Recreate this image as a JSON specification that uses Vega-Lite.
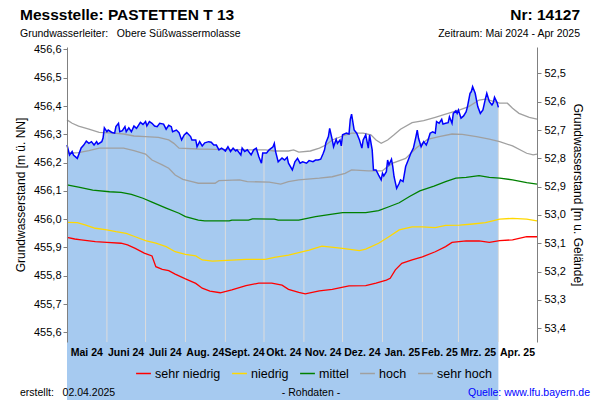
{
  "$schema": "https://vega.github.io/schema/vega-lite/v6.json",
  "width": 470,
  "height": 295,
  "autosize": {"type": "none"},
  "padding": {"left": 67, "top": 47, "right": 63, "bottom": 58},
  "background": "#ffffff",
  "config": {
    "view": {"stroke": null},
    "font": "Liberation Sans",
    "axis": {"labelFont": "Liberation Sans", "titleFont": "Liberation Sans", "labelColor": "#000000", "titleColor": "#000000", "labelOverlap": false},
    "legend": {"labelFont": "Liberation Sans"},
    "text": {"font": "Liberation Sans"}
  },
  "datasets": {
    "messung": [
      {"date": "2024-05-01", "value": 456.262}, {"date": "2024-05-03", "value": 456.227}, {"date": "2024-05-05", "value": 456.239},
      {"date": "2024-05-06", "value": 456.227}, {"date": "2024-05-09", "value": 456.215}, {"date": "2024-05-12", "value": 456.252},
      {"date": "2024-05-14", "value": 456.262}, {"date": "2024-05-16", "value": 456.276}, {"date": "2024-05-18", "value": 456.268},
      {"date": "2024-05-20", "value": 456.274}, {"date": "2024-05-22", "value": 456.262}, {"date": "2024-05-24", "value": 456.274},
      {"date": "2024-05-25", "value": 456.265}, {"date": "2024-05-28", "value": 456.274}, {"date": "2024-05-29", "value": 456.287},
      {"date": "2024-05-30", "value": 456.323}, {"date": "2024-06-01", "value": 456.309}, {"date": "2024-06-02", "value": 456.315},
      {"date": "2024-06-04", "value": 456.309}, {"date": "2024-06-05", "value": 456.306}, {"date": "2024-06-07", "value": 456.304},
      {"date": "2024-06-08", "value": 456.327}, {"date": "2024-06-10", "value": 456.339}, {"date": "2024-06-11", "value": 456.309},
      {"date": "2024-06-13", "value": 456.313}, {"date": "2024-06-15", "value": 456.327}, {"date": "2024-06-16", "value": 456.309},
      {"date": "2024-06-18", "value": 456.323}, {"date": "2024-06-20", "value": 456.309}, {"date": "2024-06-22", "value": 456.329},
      {"date": "2024-06-24", "value": 456.321}, {"date": "2024-06-27", "value": 456.342}, {"date": "2024-06-29", "value": 456.335},
      {"date": "2024-07-01", "value": 456.345}, {"date": "2024-07-02", "value": 456.330}, {"date": "2024-07-04", "value": 456.345},
      {"date": "2024-07-06", "value": 456.339}, {"date": "2024-07-08", "value": 456.329}, {"date": "2024-07-10", "value": 456.327},
      {"date": "2024-07-12", "value": 456.339}, {"date": "2024-07-15", "value": 456.336}, {"date": "2024-07-17", "value": 456.318},
      {"date": "2024-07-19", "value": 456.332}, {"date": "2024-07-21", "value": 456.327}, {"date": "2024-07-22", "value": 456.309},
      {"date": "2024-07-25", "value": 456.315}, {"date": "2024-07-27", "value": 456.306}, {"date": "2024-07-29", "value": 456.280},
      {"date": "2024-07-31", "value": 456.298}, {"date": "2024-08-02", "value": 456.306}, {"date": "2024-08-05", "value": 456.292},
      {"date": "2024-08-06", "value": 456.280}, {"date": "2024-08-09", "value": 456.280}, {"date": "2024-08-10", "value": 456.256},
      {"date": "2024-08-12", "value": 456.274}, {"date": "2024-08-14", "value": 456.259}, {"date": "2024-08-16", "value": 456.270},
      {"date": "2024-08-19", "value": 456.274}, {"date": "2024-08-21", "value": 456.272}, {"date": "2024-08-23", "value": 456.262},
      {"date": "2024-08-25", "value": 456.262}, {"date": "2024-08-27", "value": 456.245}, {"date": "2024-08-29", "value": 456.251},
      {"date": "2024-08-31", "value": 456.245}, {"date": "2024-09-01", "value": 456.241}, {"date": "2024-09-03", "value": 456.256},
      {"date": "2024-09-05", "value": 456.239}, {"date": "2024-09-07", "value": 456.251}, {"date": "2024-09-09", "value": 456.241},
      {"date": "2024-09-10", "value": 456.245}, {"date": "2024-09-13", "value": 456.227}, {"date": "2024-09-14", "value": 456.251},
      {"date": "2024-09-16", "value": 456.239}, {"date": "2024-09-18", "value": 456.245}, {"date": "2024-09-21", "value": 456.227},
      {"date": "2024-09-23", "value": 456.245}, {"date": "2024-09-25", "value": 456.251}, {"date": "2024-09-27", "value": 456.221},
      {"date": "2024-09-29", "value": 456.198}, {"date": "2024-09-30", "value": 456.234}, {"date": "2024-10-03", "value": 456.234},
      {"date": "2024-10-05", "value": 456.245}, {"date": "2024-10-08", "value": 456.256}, {"date": "2024-10-09", "value": 456.268},
      {"date": "2024-10-10", "value": 456.239}, {"date": "2024-10-12", "value": 456.203}, {"date": "2024-10-15", "value": 456.216},
      {"date": "2024-10-17", "value": 456.209}, {"date": "2024-10-19", "value": 456.219}, {"date": "2024-10-20", "value": 456.198},
      {"date": "2024-10-23", "value": 456.174}, {"date": "2024-10-25", "value": 456.203}, {"date": "2024-10-27", "value": 456.215},
      {"date": "2024-10-29", "value": 456.198}, {"date": "2024-10-31", "value": 456.203}, {"date": "2024-11-03", "value": 456.198},
      {"date": "2024-11-05", "value": 456.207}, {"date": "2024-11-08", "value": 456.203}, {"date": "2024-11-10", "value": 456.209},
      {"date": "2024-11-12", "value": 456.209}, {"date": "2024-11-14", "value": 456.212}, {"date": "2024-11-16", "value": 456.233},
      {"date": "2024-11-17", "value": 456.245}, {"date": "2024-11-18", "value": 456.269}, {"date": "2024-11-20", "value": 456.292},
      {"date": "2024-11-21", "value": 456.321}, {"date": "2024-11-23", "value": 456.280}, {"date": "2024-11-24", "value": 456.256},
      {"date": "2024-11-26", "value": 456.282}, {"date": "2024-11-27", "value": 456.268}, {"date": "2024-11-29", "value": 456.280},
      {"date": "2024-11-30", "value": 456.259}, {"date": "2024-12-01", "value": 456.298}, {"date": "2024-12-04", "value": 456.304},
      {"date": "2024-12-06", "value": 456.301}, {"date": "2024-12-07", "value": 456.353}, {"date": "2024-12-08", "value": 456.371},
      {"date": "2024-12-10", "value": 456.315}, {"date": "2024-12-12", "value": 456.304}, {"date": "2024-12-14", "value": 456.282},
      {"date": "2024-12-16", "value": 456.251}, {"date": "2024-12-17", "value": 456.280}, {"date": "2024-12-19", "value": 456.298},
      {"date": "2024-12-21", "value": 456.251}, {"date": "2024-12-22", "value": 456.298}, {"date": "2024-12-24", "value": 456.245},
      {"date": "2024-12-25", "value": 456.174}, {"date": "2024-12-27", "value": 456.174}, {"date": "2024-12-29", "value": 456.156},
      {"date": "2024-12-31", "value": 456.139}, {"date": "2025-01-01", "value": 456.162}, {"date": "2025-01-02", "value": 456.153},
      {"date": "2025-01-04", "value": 456.168}, {"date": "2025-01-05", "value": 456.209}, {"date": "2025-01-06", "value": 456.192},
      {"date": "2025-01-08", "value": 456.212}, {"date": "2025-01-09", "value": 456.186}, {"date": "2025-01-10", "value": 456.150},
      {"date": "2025-01-12", "value": 456.109}, {"date": "2025-01-14", "value": 456.127}, {"date": "2025-01-15", "value": 456.139},
      {"date": "2025-01-17", "value": 456.133}, {"date": "2025-01-19", "value": 456.186}, {"date": "2025-01-21", "value": 456.209},
      {"date": "2025-01-23", "value": 456.233}, {"date": "2025-01-25", "value": 456.251}, {"date": "2025-01-27", "value": 456.292},
      {"date": "2025-01-28", "value": 456.315}, {"date": "2025-01-29", "value": 456.286}, {"date": "2025-01-31", "value": 456.256},
      {"date": "2025-02-02", "value": 456.274}, {"date": "2025-02-04", "value": 456.262}, {"date": "2025-02-05", "value": 456.274},
      {"date": "2025-02-07", "value": 456.304}, {"date": "2025-02-09", "value": 456.309}, {"date": "2025-02-11", "value": 456.304},
      {"date": "2025-02-12", "value": 456.345}, {"date": "2025-02-14", "value": 456.339}, {"date": "2025-02-16", "value": 456.353},
      {"date": "2025-02-17", "value": 456.336}, {"date": "2025-02-19", "value": 456.339}, {"date": "2025-02-21", "value": 456.341},
      {"date": "2025-02-22", "value": 456.362}, {"date": "2025-02-24", "value": 456.339}, {"date": "2025-02-25", "value": 456.374},
      {"date": "2025-02-27", "value": 456.383}, {"date": "2025-02-28", "value": 456.374}, {"date": "2025-03-01", "value": 456.386},
      {"date": "2025-03-03", "value": 456.357}, {"date": "2025-03-05", "value": 456.365}, {"date": "2025-03-07", "value": 456.380},
      {"date": "2025-03-08", "value": 456.398}, {"date": "2025-03-10", "value": 456.445}, {"date": "2025-03-11", "value": 456.451},
      {"date": "2025-03-12", "value": 456.468}, {"date": "2025-03-14", "value": 456.445}, {"date": "2025-03-16", "value": 456.398},
      {"date": "2025-03-18", "value": 456.374}, {"date": "2025-03-20", "value": 456.386}, {"date": "2025-03-22", "value": 456.427},
      {"date": "2025-03-23", "value": 456.445}, {"date": "2025-03-25", "value": 456.415}, {"date": "2025-03-27", "value": 456.404},
      {"date": "2025-03-28", "value": 456.411}, {"date": "2025-03-29", "value": 456.431}, {"date": "2025-03-31", "value": 456.412},
      {"date": "2025-04-01", "value": 456.395}
    ],
    "monatsgrenzen": [
      {"date": "2024-06-01", "value": 456.309}, {"date": "2024-07-01", "value": 456.345}, {"date": "2024-08-01", "value": 456.302},
      {"date": "2024-09-01", "value": 456.241}, {"date": "2024-10-01", "value": 456.234}, {"date": "2024-11-01", "value": 456.200},
      {"date": "2024-12-01", "value": 456.298}, {"date": "2025-01-01", "value": 456.162}, {"date": "2025-02-01", "value": 456.265},
      {"date": "2025-03-01", "value": 456.386}, {"date": "2025-04-01", "value": 456.395}
    ],
    "raster_monate": [
      {"date": "2024-06-01"}, {"date": "2024-07-01"}, {"date": "2024-08-01"}, {"date": "2024-09-01"}, {"date": "2024-10-01"},
      {"date": "2024-11-01"}, {"date": "2024-12-01"}, {"date": "2025-01-01"}, {"date": "2025-02-01"}, {"date": "2025-03-01"},
      {"date": "2025-04-01"}
    ],
    "raster_hoehen": [
      {"value": 455.6}, {"value": 455.7}, {"value": 455.8}, {"value": 455.9}, {"value": 456.0}, {"value": 456.1},
      {"value": 456.2}, {"value": 456.3}, {"value": 456.4}, {"value": 456.5}, {"value": 456.6}
    ],
    "statistik": [
      {"date": "2024-05-01", "series": "sehr hoch", "value": 456.351},
      {"date": "2024-05-05", "series": "sehr hoch", "value": 456.339},
      {"date": "2024-05-10", "series": "sehr hoch", "value": 456.329},
      {"date": "2024-05-18", "series": "sehr hoch", "value": 456.318},
      {"date": "2024-05-26", "series": "sehr hoch", "value": 456.307},
      {"date": "2024-06-06", "series": "sehr hoch", "value": 456.304},
      {"date": "2024-06-14", "series": "sehr hoch", "value": 456.301},
      {"date": "2024-06-22", "series": "sehr hoch", "value": 456.294},
      {"date": "2024-07-01", "series": "sehr hoch", "value": 456.292},
      {"date": "2024-07-11", "series": "sehr hoch", "value": 456.289},
      {"date": "2024-07-19", "series": "sehr hoch", "value": 456.280},
      {"date": "2024-07-23", "series": "sehr hoch", "value": 456.268},
      {"date": "2024-07-27", "series": "sehr hoch", "value": 456.251},
      {"date": "2024-08-11", "series": "sehr hoch", "value": 456.248},
      {"date": "2024-08-24", "series": "sehr hoch", "value": 456.247},
      {"date": "2024-09-17", "series": "sehr hoch", "value": 456.245},
      {"date": "2024-10-02", "series": "sehr hoch", "value": 456.245},
      {"date": "2024-10-09", "series": "sehr hoch", "value": 456.241},
      {"date": "2024-10-20", "series": "sehr hoch", "value": 456.241},
      {"date": "2024-10-24", "series": "sehr hoch", "value": 456.245},
      {"date": "2024-10-28", "series": "sehr hoch", "value": 456.237},
      {"date": "2024-11-06", "series": "sehr hoch", "value": 456.241},
      {"date": "2024-11-13", "series": "sehr hoch", "value": 456.251},
      {"date": "2024-11-18", "series": "sehr hoch", "value": 456.262},
      {"date": "2024-11-23", "series": "sehr hoch", "value": 456.280},
      {"date": "2024-12-01", "series": "sehr hoch", "value": 456.294},
      {"date": "2024-12-08", "series": "sehr hoch", "value": 456.304},
      {"date": "2024-12-17", "series": "sehr hoch", "value": 456.304},
      {"date": "2024-12-23", "series": "sehr hoch", "value": 456.298},
      {"date": "2024-12-27", "series": "sehr hoch", "value": 456.280},
      {"date": "2024-12-31", "series": "sehr hoch", "value": 456.268},
      {"date": "2025-01-05", "series": "sehr hoch", "value": 456.280},
      {"date": "2025-01-10", "series": "sehr hoch", "value": 456.298},
      {"date": "2025-01-15", "series": "sehr hoch", "value": 456.318},
      {"date": "2025-01-24", "series": "sehr hoch", "value": 456.341},
      {"date": "2025-02-02", "series": "sehr hoch", "value": 456.348},
      {"date": "2025-02-11", "series": "sehr hoch", "value": 456.360},
      {"date": "2025-02-19", "series": "sehr hoch", "value": 456.371},
      {"date": "2025-03-02", "series": "sehr hoch", "value": 456.386},
      {"date": "2025-03-09", "series": "sehr hoch", "value": 456.398},
      {"date": "2025-03-17", "series": "sehr hoch", "value": 456.421},
      {"date": "2025-03-22", "series": "sehr hoch", "value": 456.424},
      {"date": "2025-04-02", "series": "sehr hoch", "value": 456.410},
      {"date": "2025-04-08", "series": "sehr hoch", "value": 456.410},
      {"date": "2025-04-12", "series": "sehr hoch", "value": 456.392},
      {"date": "2025-04-17", "series": "sehr hoch", "value": 456.374},
      {"date": "2025-04-25", "series": "sehr hoch", "value": 456.360},
      {"date": "2025-05-01", "series": "sehr hoch", "value": 456.354},

      {"date": "2024-05-01", "series": "hoch", "value": 456.233},
      {"date": "2024-05-10", "series": "hoch", "value": 456.235},
      {"date": "2024-05-18", "series": "hoch", "value": 456.242},
      {"date": "2024-05-26", "series": "hoch", "value": 456.251},
      {"date": "2024-06-14", "series": "hoch", "value": 456.251},
      {"date": "2024-06-22", "series": "hoch", "value": 456.242},
      {"date": "2024-07-01", "series": "hoch", "value": 456.230},
      {"date": "2024-07-06", "series": "hoch", "value": 456.209},
      {"date": "2024-07-14", "series": "hoch", "value": 456.192},
      {"date": "2024-07-19", "series": "hoch", "value": 456.180},
      {"date": "2024-07-24", "series": "hoch", "value": 456.156},
      {"date": "2024-07-30", "series": "hoch", "value": 456.141},
      {"date": "2024-08-06", "series": "hoch", "value": 456.133},
      {"date": "2024-08-11", "series": "hoch", "value": 456.127},
      {"date": "2024-08-24", "series": "hoch", "value": 456.127},
      {"date": "2024-08-27", "series": "hoch", "value": 456.136},
      {"date": "2024-09-12", "series": "hoch", "value": 456.139},
      {"date": "2024-09-18", "series": "hoch", "value": 456.133},
      {"date": "2024-10-05", "series": "hoch", "value": 456.131},
      {"date": "2024-10-14", "series": "hoch", "value": 456.124},
      {"date": "2024-10-20", "series": "hoch", "value": 456.133},
      {"date": "2024-10-28", "series": "hoch", "value": 456.139},
      {"date": "2024-11-13", "series": "hoch", "value": 456.145},
      {"date": "2024-11-23", "series": "hoch", "value": 456.150},
      {"date": "2024-12-03", "series": "hoch", "value": 456.162},
      {"date": "2024-12-08", "series": "hoch", "value": 456.174},
      {"date": "2024-12-21", "series": "hoch", "value": 456.171},
      {"date": "2025-01-01", "series": "hoch", "value": 456.171},
      {"date": "2025-01-05", "series": "hoch", "value": 456.186},
      {"date": "2025-01-09", "series": "hoch", "value": 456.198},
      {"date": "2025-01-19", "series": "hoch", "value": 456.215},
      {"date": "2025-01-27", "series": "hoch", "value": 456.251},
      {"date": "2025-02-05", "series": "hoch", "value": 456.282},
      {"date": "2025-02-14", "series": "hoch", "value": 456.292},
      {"date": "2025-02-24", "series": "hoch", "value": 456.301},
      {"date": "2025-03-04", "series": "hoch", "value": 456.300},
      {"date": "2025-03-15", "series": "hoch", "value": 456.292},
      {"date": "2025-03-25", "series": "hoch", "value": 456.283},
      {"date": "2025-04-02", "series": "hoch", "value": 456.274},
      {"date": "2025-04-12", "series": "hoch", "value": 456.259},
      {"date": "2025-04-23", "series": "hoch", "value": 456.233},
      {"date": "2025-04-28", "series": "hoch", "value": 456.227},
      {"date": "2025-05-01", "series": "hoch", "value": 456.230},

      {"date": "2024-05-01", "series": "mittel", "value": 456.121},
      {"date": "2024-05-10", "series": "mittel", "value": 456.113},
      {"date": "2024-05-21", "series": "mittel", "value": 456.103},
      {"date": "2024-06-03", "series": "mittel", "value": 456.097},
      {"date": "2024-06-12", "series": "mittel", "value": 456.095},
      {"date": "2024-06-20", "series": "mittel", "value": 456.088},
      {"date": "2024-06-29", "series": "mittel", "value": 456.074},
      {"date": "2024-07-06", "series": "mittel", "value": 456.060},
      {"date": "2024-07-17", "series": "mittel", "value": 456.039},
      {"date": "2024-07-27", "series": "mittel", "value": 456.021},
      {"date": "2024-08-01", "series": "mittel", "value": 456.009},
      {"date": "2024-08-11", "series": "mittel", "value": 455.997},
      {"date": "2024-08-16", "series": "mittel", "value": 455.994},
      {"date": "2024-09-04", "series": "mittel", "value": 455.994},
      {"date": "2024-09-06", "series": "mittel", "value": 455.997},
      {"date": "2024-09-19", "series": "mittel", "value": 455.997},
      {"date": "2024-09-22", "series": "mittel", "value": 456.001},
      {"date": "2024-10-09", "series": "mittel", "value": 456.000},
      {"date": "2024-10-12", "series": "mittel", "value": 455.997},
      {"date": "2024-10-28", "series": "mittel", "value": 455.997},
      {"date": "2024-11-10", "series": "mittel", "value": 456.009},
      {"date": "2024-11-23", "series": "mittel", "value": 456.018},
      {"date": "2024-12-01", "series": "mittel", "value": 456.023},
      {"date": "2024-12-19", "series": "mittel", "value": 456.023},
      {"date": "2024-12-29", "series": "mittel", "value": 456.030},
      {"date": "2025-01-06", "series": "mittel", "value": 456.044},
      {"date": "2025-01-14", "series": "mittel", "value": 456.058},
      {"date": "2025-01-22", "series": "mittel", "value": 456.080},
      {"date": "2025-01-30", "series": "mittel", "value": 456.100},
      {"date": "2025-02-10", "series": "mittel", "value": 456.117},
      {"date": "2025-02-19", "series": "mittel", "value": 456.133},
      {"date": "2025-02-27", "series": "mittel", "value": 456.145},
      {"date": "2025-03-07", "series": "mittel", "value": 456.148},
      {"date": "2025-03-17", "series": "mittel", "value": 456.154},
      {"date": "2025-03-25", "series": "mittel", "value": 456.148},
      {"date": "2025-04-02", "series": "mittel", "value": 456.145},
      {"date": "2025-04-12", "series": "mittel", "value": 456.139},
      {"date": "2025-04-23", "series": "mittel", "value": 456.129},
      {"date": "2025-05-01", "series": "mittel", "value": 456.124},

      {"date": "2024-05-01", "series": "niedrig", "value": 455.989},
      {"date": "2024-05-09", "series": "niedrig", "value": 455.988},
      {"date": "2024-05-15", "series": "niedrig", "value": 455.980},
      {"date": "2024-05-23", "series": "niedrig", "value": 455.968},
      {"date": "2024-06-01", "series": "niedrig", "value": 455.962},
      {"date": "2024-06-08", "series": "niedrig", "value": 455.956},
      {"date": "2024-06-16", "series": "niedrig", "value": 455.950},
      {"date": "2024-06-23", "series": "niedrig", "value": 455.938},
      {"date": "2024-07-01", "series": "niedrig", "value": 455.924},
      {"date": "2024-07-09", "series": "niedrig", "value": 455.915},
      {"date": "2024-07-17", "series": "niedrig", "value": 455.903},
      {"date": "2024-07-24", "series": "niedrig", "value": 455.885},
      {"date": "2024-08-01", "series": "niedrig", "value": 455.876},
      {"date": "2024-08-09", "series": "niedrig", "value": 455.870},
      {"date": "2024-08-14", "series": "niedrig", "value": 455.856},
      {"date": "2024-08-22", "series": "niedrig", "value": 455.852},
      {"date": "2024-09-06", "series": "niedrig", "value": 455.855},
      {"date": "2024-09-17", "series": "niedrig", "value": 455.858},
      {"date": "2024-10-02", "series": "niedrig", "value": 455.858},
      {"date": "2024-10-09", "series": "niedrig", "value": 455.865},
      {"date": "2024-10-20", "series": "niedrig", "value": 455.873},
      {"date": "2024-10-28", "series": "niedrig", "value": 455.882},
      {"date": "2024-11-05", "series": "niedrig", "value": 455.891},
      {"date": "2024-11-15", "series": "niedrig", "value": 455.905},
      {"date": "2024-12-01", "series": "niedrig", "value": 455.897},
      {"date": "2024-12-14", "series": "niedrig", "value": 455.889},
      {"date": "2024-12-19", "series": "niedrig", "value": 455.894},
      {"date": "2024-12-29", "series": "niedrig", "value": 455.915},
      {"date": "2025-01-06", "series": "niedrig", "value": 455.938},
      {"date": "2025-01-14", "series": "niedrig", "value": 455.962},
      {"date": "2025-01-24", "series": "niedrig", "value": 455.973},
      {"date": "2025-02-01", "series": "niedrig", "value": 455.973},
      {"date": "2025-02-11", "series": "niedrig", "value": 455.970},
      {"date": "2025-02-19", "series": "niedrig", "value": 455.978},
      {"date": "2025-03-02", "series": "niedrig", "value": 455.979},
      {"date": "2025-03-12", "series": "niedrig", "value": 455.983},
      {"date": "2025-03-22", "series": "niedrig", "value": 455.988},
      {"date": "2025-04-02", "series": "niedrig", "value": 456.000},
      {"date": "2025-04-12", "series": "niedrig", "value": 456.003},
      {"date": "2025-04-23", "series": "niedrig", "value": 456.000},
      {"date": "2025-05-01", "series": "niedrig", "value": 455.994},

      {"date": "2024-05-01", "series": "sehr niedrig", "value": 455.936},
      {"date": "2024-05-07", "series": "sehr niedrig", "value": 455.930},
      {"date": "2024-05-12", "series": "sehr niedrig", "value": 455.927},
      {"date": "2024-05-23", "series": "sehr niedrig", "value": 455.921},
      {"date": "2024-06-01", "series": "sehr niedrig", "value": 455.918},
      {"date": "2024-06-12", "series": "sehr niedrig", "value": 455.915},
      {"date": "2024-06-17", "series": "sehr niedrig", "value": 455.909},
      {"date": "2024-06-23", "series": "sehr niedrig", "value": 455.897},
      {"date": "2024-06-30", "series": "sehr niedrig", "value": 455.880},
      {"date": "2024-07-06", "series": "sehr niedrig", "value": 455.870},
      {"date": "2024-07-09", "series": "sehr niedrig", "value": 455.832},
      {"date": "2024-07-14", "series": "sehr niedrig", "value": 455.823},
      {"date": "2024-07-19", "series": "sehr niedrig", "value": 455.818},
      {"date": "2024-07-24", "series": "sehr niedrig", "value": 455.806},
      {"date": "2024-08-01", "series": "sehr niedrig", "value": 455.789},
      {"date": "2024-08-09", "series": "sehr niedrig", "value": 455.773},
      {"date": "2024-08-14", "series": "sehr niedrig", "value": 455.756},
      {"date": "2024-08-20", "series": "sehr niedrig", "value": 455.746},
      {"date": "2024-08-28", "series": "sehr niedrig", "value": 455.740},
      {"date": "2024-09-06", "series": "sehr niedrig", "value": 455.750},
      {"date": "2024-09-17", "series": "sehr niedrig", "value": 455.765},
      {"date": "2024-09-27", "series": "sehr niedrig", "value": 455.774},
      {"date": "2024-10-07", "series": "sehr niedrig", "value": 455.774},
      {"date": "2024-10-15", "series": "sehr niedrig", "value": 455.767},
      {"date": "2024-10-20", "series": "sehr niedrig", "value": 455.752},
      {"date": "2024-10-28", "series": "sehr niedrig", "value": 455.741},
      {"date": "2024-11-02", "series": "sehr niedrig", "value": 455.736},
      {"date": "2024-11-13", "series": "sehr niedrig", "value": 455.747},
      {"date": "2024-11-23", "series": "sehr niedrig", "value": 455.752},
      {"date": "2024-12-06", "series": "sehr niedrig", "value": 455.764},
      {"date": "2024-12-19", "series": "sehr niedrig", "value": 455.765},
      {"date": "2024-12-27", "series": "sehr niedrig", "value": 455.774},
      {"date": "2025-01-04", "series": "sehr niedrig", "value": 455.785},
      {"date": "2025-01-07", "series": "sehr niedrig", "value": 455.791},
      {"date": "2025-01-11", "series": "sehr niedrig", "value": 455.821},
      {"date": "2025-01-16", "series": "sehr niedrig", "value": 455.844},
      {"date": "2025-01-24", "series": "sehr niedrig", "value": 455.856},
      {"date": "2025-02-01", "series": "sehr niedrig", "value": 455.867},
      {"date": "2025-02-11", "series": "sehr niedrig", "value": 455.885},
      {"date": "2025-02-19", "series": "sehr niedrig", "value": 455.903},
      {"date": "2025-02-24", "series": "sehr niedrig", "value": 455.918},
      {"date": "2025-03-07", "series": "sehr niedrig", "value": 455.923},
      {"date": "2025-03-17", "series": "sehr niedrig", "value": 455.923},
      {"date": "2025-03-25", "series": "sehr niedrig", "value": 455.918},
      {"date": "2025-04-02", "series": "sehr niedrig", "value": 455.924},
      {"date": "2025-04-12", "series": "sehr niedrig", "value": 455.927},
      {"date": "2025-04-23", "series": "sehr niedrig", "value": 455.938},
      {"date": "2025-05-01", "series": "sehr niedrig", "value": 455.938}
    ],
    "flurabstand": [{"depth": 52.5}, {"depth": 53.4}],
    "beschriftung": [{"t": 1}]
  },
  "layer": [
    {
      "encoding": {
        "x": {
          "field": "date", "type": "temporal",
          "scale": {"type": "utc", "domain": [{"year": 2024, "month": 5, "date": 1, "utc": true}, {"year": 2025, "month": 5, "date": 1, "utc": true}]},
          "axis": {
            "title": null, "orient": "bottom", "domain": false, "ticks": false, "grid": false, "zindex": 1,
            "values": [
              {"year": 2024, "month": 5, "date": 16, "utc": true}, {"year": 2024, "month": 6, "date": 15, "hours": 12, "utc": true},
              {"year": 2024, "month": 7, "date": 16, "utc": true}, {"year": 2024, "month": 8, "date": 16, "utc": true},
              {"year": 2024, "month": 9, "date": 15, "hours": 12, "utc": true}, {"year": 2024, "month": 10, "date": 16, "utc": true},
              {"year": 2024, "month": 11, "date": 15, "hours": 12, "utc": true}, {"year": 2024, "month": 12, "date": 16, "utc": true},
              {"year": 2025, "month": 1, "date": 16, "utc": true}, {"year": 2025, "month": 2, "date": 14, "utc": true},
              {"year": 2025, "month": 3, "date": 16, "utc": true}, {"year": 2025, "month": 4, "date": 15, "hours": 12, "utc": true}
            ],
            "labelExpr": "['Jan.','Feb.','Mrz.','Apr.','Mai','Juni','Juli','Aug.','Sept.','Okt.','Nov.','Dez.'][utcmonth(datum.value)] + ' ' + utcFormat(datum.value, '%y')",
            "labelFontWeight": "bold", "labelFontSize": 10.5, "labelPadding": 5, "labelFlush": false, "labelOverlap": false
          }
        },
        "y": {
          "field": "value", "type": "quantitative",
          "scale": {"domain": [455.566, 456.6085], "nice": false, "zero": false},
          "axis": {
            "orient": "left", "title": "Grundwasserstand [m ü. NN]", "zindex": 1, "grid": false,
            "values": [455.6, 455.7, 455.8, 455.9, 456.0, 456.1, 456.2, 456.3, 456.4, 456.5, 456.6],
            "labelExpr": "replace(format(datum.value, '.1f'), '.', ',')",
            "labelOverlap": false,
            "labelFontSize": 11, "titleFontSize": 12, "titleFontWeight": "normal", "titlePadding": 6,
            "domainColor": "#808080", "tickColor": "#808080", "tickSize": 4, "labelPadding": 2
          }
        }
      },
      "layer": [
        {
          "data": {"name": "raster_hoehen"},
          "mark": {"type": "rule", "color": "#d6d6d6", "strokeWidth": 1, "strokeDash": [3, 3]},
          "encoding": {
            "x": {"datum": {"year": 2024, "month": 5, "date": 1, "utc": true}, "type": "temporal"},
            "x2": {"datum": {"year": 2025, "month": 5, "date": 1, "utc": true}}
          }
        },
        {
          "data": {"name": "raster_monate"},
          "mark": {"type": "rule", "color": "#d6d6d6", "strokeWidth": 1, "strokeDash": [3, 3]},
          "encoding": {
            "y": {"datum": 455.566, "type": "quantitative"},
            "y2": {"datum": 456.6085}
          }
        },
        {
          "data": {"name": "messung"},
          "mark": {"type": "area", "color": "#a6caf0", "opacity": 1}
        },
        {
          "data": {"name": "monatsgrenzen"},
          "mark": {"type": "rule", "color": "#dcdcdc", "strokeWidth": 1},
          "encoding": {
            "y2": {"datum": 455.566}
          }
        },
        {
          "data": {"name": "statistik"},
          "mark": {"type": "line", "strokeWidth": 1.3},
          "encoding": {
            "color": {
              "field": "series", "type": "nominal",
              "scale": {"domain": ["sehr niedrig", "niedrig", "mittel", "hoch", "sehr hoch"], "range": ["#ff0000", "#ffd800", "#008000", "#a0a0a0", "#a0a0a0"]},
              "legend": {
                "title": null, "orient": "none", "legendX": 68, "legendY": 318, "direction": "horizontal",
                "symbolType": "stroke", "symbolSize": 220, "symbolStrokeWidth": 1.5, "labelFontSize": 12.5,
                "labelColor": "#000000", "columnPadding": 8, "labelOffset": 3, "padding": 0
              }
            }
          }
        },
        {
          "data": {"name": "messung"},
          "mark": {"type": "line", "color": "#0000ff", "strokeWidth": 1.5}
        },
        {
          "data": {"name": "beschriftung"},
          "mark": {"type": "text", "align": "left", "baseline": "alphabetic", "fontSize": 15.5, "fontWeight": "bold", "color": "#000000"},
          "encoding": {"x": {"value": -47}, "y": {"value": -27}, "text": {"value": "Messstelle: PASTETTEN T 13"}}
        },
        {
          "data": {"name": "beschriftung"},
          "mark": {"type": "text", "align": "right", "baseline": "alphabetic", "fontSize": 15.5, "fontWeight": "bold", "color": "#000000"},
          "encoding": {"x": {"value": 513}, "y": {"value": -27}, "text": {"value": "Nr: 14127"}}
        },
        {
          "data": {"name": "beschriftung"},
          "mark": {"type": "text", "align": "left", "baseline": "alphabetic", "fontSize": 10.5, "color": "#000000"},
          "encoding": {"x": {"value": -47}, "y": {"value": -10}, "text": {"value": "Grundwasserleiter:\u00a0\u00a0\u00a0Obere Süßwassermolasse"}}
        },
        {
          "data": {"name": "beschriftung"},
          "mark": {"type": "text", "align": "right", "baseline": "alphabetic", "fontSize": 10.5, "color": "#000000"},
          "encoding": {"x": {"value": 513}, "y": {"value": -10}, "text": {"value": "Zeitraum: Mai 2024 - Apr 2025"}}
        },
        {
          "data": {"name": "beschriftung"},
          "mark": {"type": "text", "align": "left", "baseline": "alphabetic", "fontSize": 10.5, "color": "#000000"},
          "encoding": {"x": {"value": -47}, "y": {"value": 349}, "text": {"value": "erstellt:\u00a0\u00a0\u00a002.04.2025"}}
        },
        {
          "data": {"name": "beschriftung"},
          "mark": {"type": "text", "align": "center", "baseline": "alphabetic", "fontSize": 10.5, "color": "#000000"},
          "encoding": {"x": {"value": 244}, "y": {"value": 349}, "text": {"value": "- Rohdaten -"}}
        },
        {
          "data": {"name": "beschriftung"},
          "mark": {"type": "text", "align": "right", "baseline": "alphabetic", "fontSize": 10.5, "color": "#0000ff"},
          "encoding": {"x": {"value": 523}, "y": {"value": 349}, "text": {"value": "Quelle: www.lfu.bayern.de"}}
        }
      ]
    },
    {
      "data": {"name": "flurabstand"},
      "mark": {"type": "point", "opacity": 0},
      "encoding": {
        "y": {
          "field": "depth", "type": "quantitative",
          "scale": {"domain": [52.4065, 53.449], "nice": false, "zero": false, "reverse": true},
          "axis": {
            "orient": "right", "title": "Grundwasserstand [m u. Gelände]",
            "values": [52.5, 52.6, 52.7, 52.8, 52.9, 53.0, 53.1, 53.2, 53.3, 53.4],
            "labelExpr": "replace(format(datum.value, '.1f'), '.', ',')",
            "labelOverlap": false,
            "labelFontSize": 11, "titleFontSize": 12, "titleFontWeight": "normal", "titlePadding": 5,
            "domainColor": "#808080", "tickColor": "#808080", "tickSize": 4, "labelPadding": 3, "grid": false
          }
        }
      }
    }
  ],
  "resolve": {"scale": {"y": "independent"}}
}
